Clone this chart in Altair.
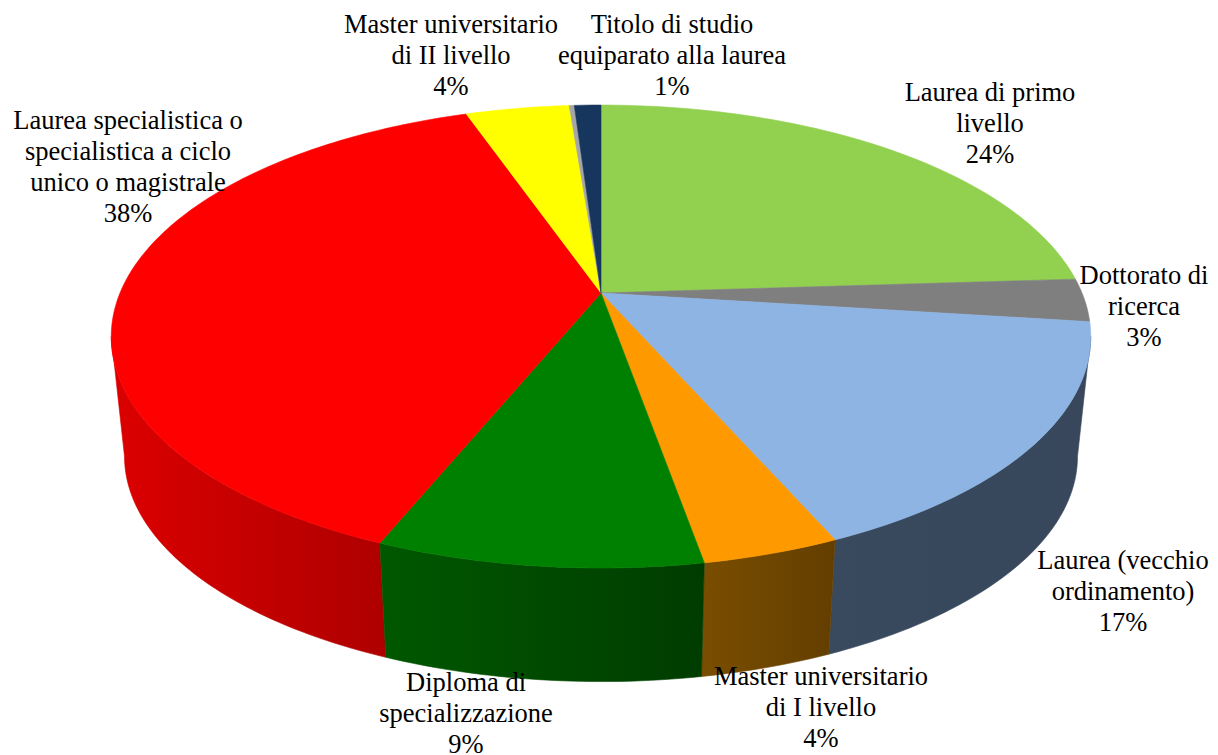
import math
import altair as alt
import pandas as pd

# Slice shares in percent, clockwise from twelve o'clock
categories = ["Laurea di primo livello", "Dottorato di ricerca", "Laurea (vecchio ordinamento)",
              "Master universitario di I livello", "Diploma di specializzazione",
              "Laurea specialistica o specialistica a ciclo unico o magistrale",
              "Master universitario di II livello", "Altro", "Titolo di studio equiparato alla laurea"]
shares = [24.0, 3.0, 16.4, 3.8, 9.0, 38.45, 4.1, 0.2, 1.05]
top_colors = ["#92D050", "#7F7F7F", "#8DB4E2", "#FF9900", "#008000", "#FF0000", "#FFFF00", "#A6A6A6", "#17365D"]
side_left = ["#5E8A33", "#555555", "#394A5E", "#7A4E00", "#005800", "#DC0000", "#AAAA00", "#707070", "#0F2440"]
side_right = ["#5E8A33", "#555555", "#38475B", "#633E00", "#003C00", "#AE0000", "#AAAA00", "#707070", "#0F2440"]

label_lines = [["Laurea di primo", "livello", "24%"], ["Dottorato di", "ricerca", "3%"],
               ["Laurea (vecchio", "ordinamento)", "17%"], ["Master universitario", "di I livello", "4%"],
               ["Diploma di", "specializzazione", "9%"],
               ["Laurea specialistica o", "specialistica a ciclo", "unico o magistrale", "38%"],
               ["Master universitario", "di II livello", "4%"], ["Titolo di studio", "equiparato alla laurea", "1%"]]
label_x = [990, 1144, 1123, 821, 466, 128, 451, 672]
label_y = [93, 276, 561, 677, 683, 121, 25, 25]
LINE = 31

# Pie view: centre, radii, perspective, thickness
CX, CY, RX, RY, K = 601, 293, 481, 223.3, 0.188
BOTTOM_Y, BOTTOM_S = 414, 0.973
STEP = 1.0


def rim(deg, bottom=False):
    t = math.radians(deg)
    w = 1 + K * math.cos(t)
    x, y = RX * math.sin(t) / w, -RY * math.cos(t) / w
    if bottom:
        return CX + BOTTOM_S * x, BOTTOM_Y + BOTTOM_S * y
    return CX + x, CY + y


def arc(a, b):
    n = max(2, int(abs(b - a) / STEP) + 1)
    return [a + (b - a) * i / (n - 1) for i in range(n)]


X = alt.X("x:Q", scale=alt.Scale(domain=[8, 1210], nice=False, zero=False), axis=None)
Y = alt.Y("y:Q", scale=alt.Scale(domain=[755, 8], nice=False, zero=False), axis=None)


def poly(points, fill, stroke):
    df = pd.DataFrame({"x": [p[0] for p in points], "y": [p[1] for p in points], "o": range(len(points))})
    return alt.Chart(df).mark_line(fill=fill, stroke=stroke, strokeWidth=0.6, interpolate="linear-closed", clip=False).encode(
        x=X, y=Y, order="o:Q")


edges = [0.0]
for s in shares:
    edges.append(edges[-1] + s * 3.6)
edges[-1] = 360.0

limit = math.degrees(math.acos(-K))
sides, tops = [], []
for i, c in enumerate(top_colors):
    a, b = edges[i], edges[i + 1]
    lo, hi = max(a, limit), min(b, 360 - limit)
    if hi > lo:
        pts = [rim(d) for d in arc(lo, hi)] + [rim(d, True) for d in arc(hi, lo)]
        grad = alt.Gradient(gradient="linear", x1=0, x2=1, y1=0, y2=0,
                            stops=[alt.GradientStop(color=side_left[i], offset=0),
                                   alt.GradientStop(color=side_right[i], offset=1)])
        sides.append((lo, poly(pts, grad, grad)))
    tops.append(poly([(CX, CY)] + [rim(d) for d in arc(a, b)], c, c))

# paint sides from the silhouette inwards towards the front
sides.sort(key=lambda t: abs(t[0] - 180), reverse=True)

rows = []
for lines, x, y in zip(label_lines, label_x, label_y):
    for j, t in enumerate(lines):
        rows.append({"x": x, "y": y + j * LINE, "t": t})
text = alt.Chart(pd.DataFrame(rows)).mark_text(
    font="Liberation Serif", fontSize=26.5, color="#000000", baseline="middle", align="center", clip=False
).encode(x=X, y=Y, text="t:N")

chart = alt.layer(*[s[1] for s in sides], *tops, text).properties(
    width=1202, height=747, padding=0, autosize=alt.AutoSizeParams(type="none")
).configure_view(stroke=None)

chart.save("out.html", embed_options={"renderer": "svg", "actions": False})
